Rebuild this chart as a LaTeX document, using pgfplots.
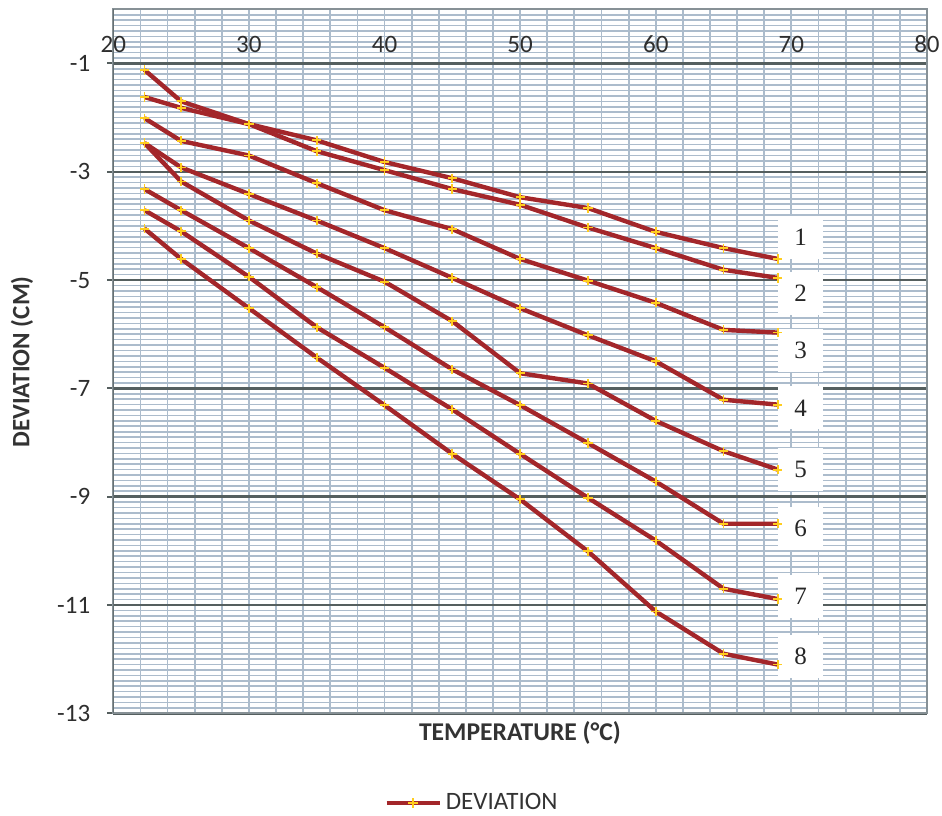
\documentclass[border=0pt]{standalone}
\usepackage{fontspec}
\setmainfont{Carlito}
\newfontfamily\serifnum{Liberation Serif}
\usepackage{pgfplots}
\usepackage{pgfplotstable}
\pgfplotsset{compat=1.18}
\definecolor{linered}{RGB}{163,38,42}
\definecolor{markyel}{RGB}{255,205,30}
\definecolor{gridlight}{RGB}{172,188,204}
\definecolor{griddark}{RGB}{85,95,95}
\definecolor{gridmid}{RGB}{135,145,150}

\pgfplotstableread{
x     s1     s2     s3     s4     s5     s6     s7      s8
22.3  -1.12  -1.62  -2.01  -2.47  -2.47  -3.32  -3.71   -4.05
25    -1.70  -1.82  -2.43  -2.92  -3.18  -3.71  -4.10   -4.61
30    -2.12  -2.12  -2.70  -3.41  -3.90  -4.41  -4.94   -5.52
35    -2.42  -2.62  -3.21  -3.90  -4.51  -5.13  -5.87   -6.43
40    -2.82  -2.97  -3.71  -4.41  -5.03  -5.87  -6.62   -7.31
45    -3.12  -3.32  -4.06  -4.96  -5.76  -6.65  -7.39   -8.21
50    -3.47  -3.61  -4.61  -5.52  -6.72  -7.31  -8.21   -9.05
55    -3.67  -4.03  -5.01  -6.02  -6.91  -8.01  -9.02   -10.01
60    -4.11  -4.41  -5.42  -6.50  -7.60  -8.72  -9.81   -11.12
65    -4.41  -4.81  -5.92  -7.21  -8.16  -9.50  -10.70  -11.90
69    -4.61  -4.96  -5.97  -7.30  -8.50  -9.50  -10.89  -12.10
}\devdata

\pgfplotsset{devline/.style={color=linered, line width=2.2pt, line join=round,
    mark=+, mark size=2.3pt, mark options={draw=markyel, line width=0.9pt, solid}}}

\begin{document}
\begin{tikzpicture}
\path[use as bounding box] (-56.65pt,-50.85pt) rectangle (414.35pt,356.65pt);
\begin{axis}[
  at={(0pt,0pt)}, anchor=south west,
  scale only axis, width=406.85pt, height=352pt,
  xmin=20, xmax=80, ymin=-13, ymax=0,
  xtick={20,30,...,80},
  minor xtick={22,24,...,78},
  ytick={-13,-11,...,-1},
  minor ytick={-12.9,-12.8,...,-0.1},
  xmajorgrids, xminorgrids, ymajorgrids, yminorgrids,
  major x grid style={gridlight, line width=0.9pt},
  minor x grid style={gridlight, line width=0.9pt},
  minor y grid style={gridlight, line width=0.8pt},
  major y grid style={griddark, line width=1.2pt},
  axis line style={gridmid, line width=1pt},
  xticklabel pos=upper,
  xtick style={draw=none},
  ytick pos=left,
  tick align=outside,
  major tick length=3pt,
  minor tick length=0pt,
  ytick style={griddark, line width=1pt},
  /pgf/number format/assume math mode=true,
  ticklabel style={font=\fontsize{12.5}{14}\selectfont, text=black!82},
  xticklabel style={yshift=-28.4pt},
  yticklabel style={xshift=-5pt},
  legend style={at={(0.442,-0.1274)}, anchor=center, draw=none, fill=none,
    font=\fontsize{12.5}{14}\selectfont, text=black!80},
  legend image code/.code={\draw[#1, mark repeat=2, mark phase=2] plot coordinates {(0pt,0pt)(13.25pt,0pt)(26.5pt,0pt)};},
]
\addplot[devline] table[x=x,y=s1]{\devdata};
\addlegendentry{DEVIATION}
\addplot[devline, forget plot] table[x=x,y=s2]{\devdata};
\addplot[devline, forget plot] table[x=x,y=s3]{\devdata};
\addplot[devline, forget plot] table[x=x,y=s4]{\devdata};
\addplot[devline, forget plot] table[x=x,y=s5]{\devdata};
\addplot[devline, forget plot] table[x=x,y=s6]{\devdata};
\addplot[devline, forget plot] table[x=x,y=s7]{\devdata};
\addplot[devline, forget plot] table[x=x,y=s8]{\devdata};
\foreach \n/\yy in {1/-4.21,2/-5.24,3/-6.30,4/-7.36,5/-8.49,6/-9.59,7/-10.84,8/-11.95}{
  \edef\temp{\noexpand\node[fill=white, font=\noexpand\serifnum\noexpand\fontsize{12.5}{14}\noexpand\selectfont, text=black!85, minimum width=22.5pt, minimum height=21.5pt, inner sep=0pt] at (axis cs:70.68,\yy) {\n};}
  \temp
}
\draw[griddark, line width=1pt] (rel axis cs:0,0) -- (rel axis cs:0,1);
\end{axis}
\node[rotate=90, font=\bfseries\fontsize{12.5}{14}\selectfont, text=black!80] at (-45.65pt,175.65pt) {DEVIATION (CM)};
\node[font=\bfseries\fontsize{12.8}{14}\selectfont, text=black!80] at (203.35pt,-10pt) {TEMPERATURE (°C)};
\end{tikzpicture}
\end{document}
